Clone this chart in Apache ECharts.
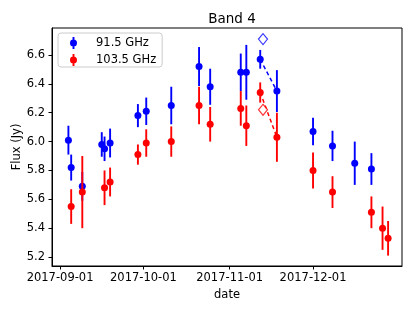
<!DOCTYPE html>
<html><head><meta charset="utf-8">
<script src="https://cdn.jsdelivr.net/npm/echarts@6/dist/echarts.min.js"></script>
<style>html,body{margin:0;padding:0;background:#fff}#c{width:415px;height:311px}</style>
</head><body><div id="c"></div>
<script>
const blueDates = ['2017-09-04','2017-09-05','2017-09-09','2017-09-16','2017-09-17','2017-09-19','2017-09-29','2017-10-02','2017-10-11','2017-10-21','2017-10-25','2017-11-05','2017-11-07','2017-11-12','2017-11-18','2017-12-01','2017-12-08','2017-12-16','2017-12-22'];
const blueFlux = [6.01,5.82,5.69,5.98,5.95,5.99,6.18,6.21,6.25,6.52,6.38,6.48,6.48,6.57,6.35,6.07,5.97,5.85,5.81];
const blueErr  = [0.10,0.09,0.10,0.085,0.085,0.10,0.08,0.095,0.13,0.135,0.125,0.13,0.19,0.065,0.145,0.095,0.105,0.15,0.11];

const redDates = ['2017-09-05','2017-09-09','2017-09-17','2017-09-19','2017-09-29','2017-10-02','2017-10-11','2017-10-21','2017-10-25','2017-11-05','2017-11-07','2017-11-12','2017-11-18','2017-12-01','2017-12-08','2017-12-22','2017-12-26','2017-12-28'];
const redFlux = [5.55,5.65,5.68,5.72,5.91,5.99,6.00,6.25,6.12,6.23,6.11,6.34,6.03,5.80,5.65,5.51,5.40,5.33];
const redErr  = [0.12,0.25,0.12,0.10,0.07,0.095,0.105,0.13,0.12,0.12,0.14,0.07,0.17,0.125,0.11,0.11,0.15,0.12];

const diamondDate = '2017-11-13';
const blueDiamond = 6.71;
const redDiamond = 6.22;

const dashDates = ['2017-11-12','2017-11-18'];
const blueDash = [6.57,6.35];
const redDash = [6.34,6.03];

const xTickLabels = ['2017-09-01','2017-10-01','2017-11-01','2017-12-01'];
const yTickLabels = [5.2,5.4,5.6,5.8,6.0,6.2,6.4,6.6];

function t(s){const p=s.split('-').map(Number);return Date.UTC(p[0],p[1]-1,p[2]);}
function fmt(v){const d=new Date(v);const m=d.getUTCMonth()+1, dd=d.getUTCDate();return d.getUTCFullYear()+'-'+(m<10?'0':'')+m+'-'+(dd<10?'0':'')+dd;}

const BLUE='#0000ff', RED='#ff0000';
const FONT='DejaVu Sans';

function errSeries(name,dates,vals,errs,color,z){
  return {name:name,type:'custom',z:z,silent:true,
    data:dates.map((d,i)=>[t(d),vals[i]-errs[i],vals[i]+errs[i]]),
    encode:{x:0,y:[1,2]},
    renderItem:function(params,api){
      const a=api.coord([api.value(0),api.value(1)]);
      const b=api.coord([api.value(0),api.value(2)]);
      return {type:'line',shape:{x1:a[0],y1:a[1],x2:b[0],y2:b[1]},style:{stroke:color,lineWidth:1.9}};
    }};
}
function ptSeries(name,dates,vals,color,z){
  return {name:name,type:'scatter',z:z,symbol:'circle',symbolSize:7,itemStyle:{color:color,opacity:1},
    data:dates.map((d,i)=>[t(d),vals[i]])};
}
const icon='path://M2.55,0 h1.9 v12 h-1.9 Z M3.5,2.5 a3.5,3.5 0 1,1 -0.001,0 Z';

const chart=echarts.init(document.getElementById('c'),null,{renderer:'canvas'});
chart.setOption({
  animation:false,
  title:{text:'Band 4',left:227,top:7,textAlign:'center',textStyle:{fontFamily:FONT,fontSize:13.5,fontWeight:'normal',color:'#000'}},
  grid:{left:52,right:13,top:28,bottom:45,outerBoundsMode:'none',containLabel:false,show:true,borderColor:'#000',borderWidth:1,backgroundColor:'transparent'},
  legend:{left:58,top:33,orient:'vertical',itemGap:5,itemWidth:7,itemHeight:12,padding:[4,6,1,12],
    borderColor:'#cccccc',borderWidth:1,borderRadius:3,backgroundColor:'#fff',
    textStyle:{fontFamily:FONT,fontSize:11.5,lineHeight:12,color:'#000',padding:[0,0,0,14]},
    data:[{name:'91.5 GHz',icon:icon,itemStyle:{color:BLUE}},{name:'103.5 GHz',icon:icon,itemStyle:{color:RED}}]},
  xAxis:{type:'value',min:t('2017-08-29')+0.1*86400000,max:t('2018-01-02'),
    name:'date',nameLocation:'middle',nameGap:20,nameTextStyle:{fontFamily:FONT,fontSize:11.5,color:'#000'},
    splitLine:{show:false},
    axisLine:{show:true,onZero:false,lineStyle:{color:'#000',width:1}},
    axisTick:{show:true,length:3.5,lineStyle:{color:'#000'},customValues:xTickLabels.map(t)},
    axisLabel:{fontFamily:FONT,fontSize:11.5,color:'#000',margin:6.5,customValues:xTickLabels.map(t),formatter:v=>fmt(v),hideOverlap:false}},
  yAxis:{type:'value',min:5.138,max:6.787,
    name:'Flux (Jy)',nameLocation:'middle',nameGap:29,nameRotate:90,nameMoveOverlap:false,nameTextStyle:{fontFamily:FONT,fontSize:11.5,color:'#000'},
    splitLine:{show:false},
    axisLine:{show:true,onZero:false,lineStyle:{color:'#000',width:1}},
    axisTick:{show:true,length:3.5,lineStyle:{color:'#000'},customValues:yTickLabels},
    axisLabel:{fontFamily:FONT,fontSize:11.5,color:'#000',margin:7,customValues:yTickLabels,formatter:v=>v.toFixed(1)}},
  series:[
    errSeries('91.5 GHz',blueDates,blueFlux,blueErr,BLUE,1),
    ptSeries('91.5 GHz',blueDates,blueFlux,BLUE,2),
    {name:'bd',type:'line',z:2,showSymbol:false,symbol:'none',data:dashDates.map((d,i)=>[t(d),blueDash[i]]),lineStyle:{color:BLUE,width:1.5,type:[4,3]}},
    {name:'bdia',type:'scatter',z:2,symbol:'diamond',symbolSize:[9,11],itemStyle:{color:'#fff',borderColor:BLUE,borderWidth:1.2},data:[[t(diamondDate),blueDiamond]]},
    errSeries('103.5 GHz',redDates,redFlux,redErr,RED,3),
    ptSeries('103.5 GHz',redDates,redFlux,RED,4),
    {name:'rd',type:'line',z:4,showSymbol:false,symbol:'none',data:dashDates.map((d,i)=>[t(d),redDash[i]]),lineStyle:{color:RED,width:1.5,type:[4,3]}},
    {name:'rdia',type:'scatter',z:4,symbol:'diamond',symbolSize:[9,11],itemStyle:{color:'#fff',borderColor:RED,borderWidth:1.2},data:[[t(diamondDate),redDiamond]]}
  ]
});
</script></body></html>
